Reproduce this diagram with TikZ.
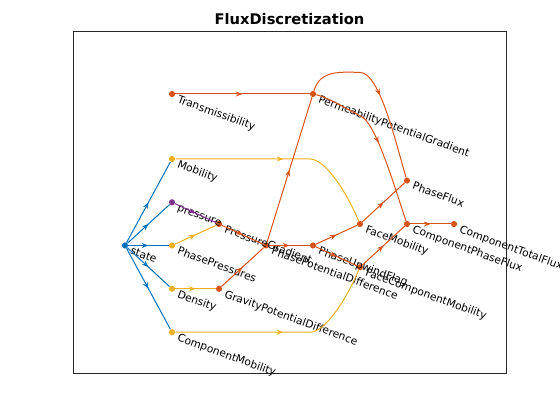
\documentclass[tikz,border=0pt]{standalone}
\usepackage{fontspec}
\setmainfont{DejaVu Sans}
\usetikzlibrary{arrows.meta, decorations.markings}

\definecolor{mblue}{rgb}{0,0.447,0.741}
\definecolor{mred}{rgb}{0.85,0.325,0.098}
\definecolor{myellow}{rgb}{0.929,0.694,0.125}
\definecolor{mpurple}{rgb}{0.494,0.184,0.556}
\definecolor{axgray}{rgb}{0.15,0.15,0.15}

\tikzset{
    dot/.style={circle, fill=#1, inner sep=0pt, minimum size=4.6pt},
    lbl/.style={anchor=base west, rotate=-20, inner sep=0pt, font=\fontsize{8}{9}\selectfont},
    dep/.style={color=#1, line width=0.75pt, postaction={decorate},
        decoration={markings, mark=at position 0.5 with {\arrow{Stealth[length=5pt, width=3.8pt, inset=1.6pt]}}}},
}

\begin{document}
\begin{tikzpicture}[x=0.75pt, y=-0.75pt]
    \useasboundingbox (0,0) rectangle (560,420);
    \draw[axgray, line width=0.6pt] (73,31) rectangle (506,373);
    \node[font=\fontsize{11}{13}\selectfont\bfseries, anchor=base] (title) at (289.5,25) {FluxDiscretization};

    \node[dot=mblue] (state) at (125,245.5) {};
    \node[dot=mred] (Transmissibility) at (172,94) {};
    \node[dot=myellow] (Mobility) at (172,159) {};
    \node[dot=mpurple] (pressure) at (172,202.3) {};
    \node[dot=myellow] (PhasePressures) at (172,245.5) {};
    \node[dot=myellow] (Density) at (172,288.8) {};
    \node[dot=myellow] (ComponentMobility) at (172,332.2) {};
    \node[dot=mred] (PressureGradient) at (219,224) {};
    \node[dot=mred] (GravityPotentialDifference) at (219,288.8) {};
    \node[dot=mred] (PhasePotentialDifference) at (266,245.5) {};
    \node[dot=mred] (PermeabilityPotentialGradient) at (313,94) {};
    \node[dot=mred] (PhaseUpwindFlag) at (313,245.5) {};
    \node[dot=mred] (FaceMobility) at (360,224) {};
    \node[dot=mred] (FaceComponentMobility) at (360,267.2) {};
    \node[dot=mred] (PhaseFlux) at (407,180.6) {};
    \node[dot=mred] (ComponentPhaseFlux) at (407,224) {};
    \node[dot=mred] (ComponentTotalFlux) at (454,224) {};

    \foreach \n in {state, Transmissibility, Mobility, pressure, PhasePressures, Density, ComponentMobility,
        PressureGradient, GravityPotentialDifference, PhasePotentialDifference, PermeabilityPotentialGradient,
        PhaseUpwindFlag, FaceMobility, FaceComponentMobility, PhaseFlux, ComponentPhaseFlux, ComponentTotalFlux}
        \node[lbl] at ([shift={(4.5,8.3)}]\n.center) {\n};

    \foreach \t in {Mobility, pressure, PhasePressures, Density, ComponentMobility}
        \draw[dep=mblue] (state) -- (\t);
    \draw[dep=mpurple] (pressure) -- (PressureGradient);
    \draw[dep=myellow] (PhasePressures) -- (PressureGradient);
    \draw[dep=myellow] (Density) -- (GravityPotentialDifference);
    \draw[dep=myellow] (Mobility) -- (310,159) .. controls (325,159) and (346,191) .. (FaceMobility);
    \draw[dep=myellow] (ComponentMobility) -- (310,332.2) .. controls (325,332.2) and (346,300) .. (FaceComponentMobility);
    \draw[dep=mred] (Transmissibility) -- (PermeabilityPotentialGradient);
    \draw[dep=mred] (PressureGradient) -- (PhasePotentialDifference);
    \draw[dep=mred] (GravityPotentialDifference) -- (PhasePotentialDifference);
    \draw[dep=mred] (PhasePotentialDifference) -- (PermeabilityPotentialGradient);
    \draw[dep=mred] (PhasePotentialDifference) -- (PhaseUpwindFlag);
    \draw[dep=mred] (PhaseUpwindFlag) -- (FaceMobility);
    \draw[dep=mred] (PhaseUpwindFlag) -- (FaceComponentMobility);
    \draw[dep=mred] (FaceMobility) -- (PhaseFlux);
    \draw[dep=mred] (FaceComponentMobility) -- (ComponentPhaseFlux);
    \draw[dep=mred] (ComponentPhaseFlux) -- (ComponentTotalFlux);
    \draw[dep=mred] (PermeabilityPotentialGradient) .. controls (320,70) and (340,72) .. (360,72.4)
        .. controls (380,72.7) and (396,144) .. (PhaseFlux);
    \draw[dep=mred] (PermeabilityPotentialGradient) .. controls (330,98) and (348,110) .. (360,115.7)
        .. controls (375,121) and (393,182) .. (ComponentPhaseFlux);
\end{tikzpicture}
\end{document}
